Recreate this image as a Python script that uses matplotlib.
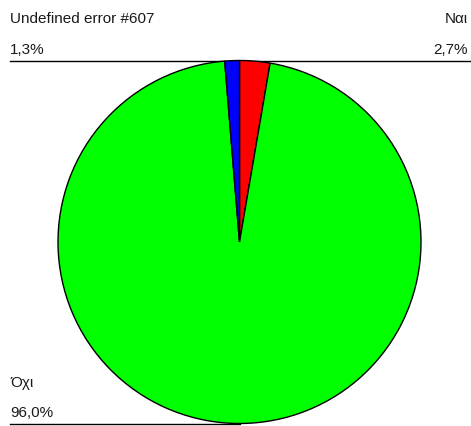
import matplotlib
matplotlib.use("Agg")
import matplotlib.pyplot as plt

labels = ["Ναι", "Όχι", "Undefined error #607"]
values = [2.7, 96.0, 1.3]
pct_labels = ["2,7%", "96,0%", "1,3%"]
colors = ["#ff0000", "#00ff00", "#0000ff"]

W, H = 471, 426
fig = plt.figure(figsize=(W / 100, H / 100), dpi=100)
ax = fig.add_axes([0, 0, 1, 1])

# y axis runs downward, so counterclock in data space is clockwise on screen
ax.pie(values, colors=colors, startangle=-90, counterclock=True,
       center=(239.5, 242), radius=181.5,
       wedgeprops=dict(edgecolor="black", linewidth=1.0))
ax.set_xlim(0, W)
ax.set_ylim(H, 0)
ax.set_aspect("equal")
ax.axis("off")

font = dict(family="Liberation Sans", fontsize=11, color="#1a1a1a")

# top-left: Undefined error
ax.text(10, 23, labels[2], ha="left", va="baseline", **font)
ax.text(10, 54, pct_labels[2], ha="left", va="baseline", **font)
# top-right: Ναι
ax.text(468, 23, labels[0], ha="right", va="baseline", **font)
ax.text(468, 54, pct_labels[0], ha="right", va="baseline", **font)
# bottom-left: Όχι
ax.text(10, 387, labels[1], ha="left", va="baseline", **font)
ax.text(10, 417, pct_labels[1], ha="left", va="baseline", **font)

ax.plot([10, 470], [61, 61], color="black", linewidth=1.0, zorder=0)
ax.plot([10, 240], [424, 424], color="black", linewidth=1.0, zorder=0)

fig.savefig("out.png", dpi=100, facecolor="white")
